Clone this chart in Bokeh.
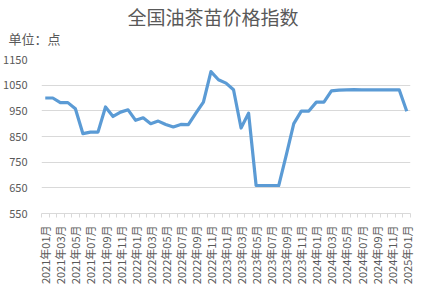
from bokeh.plotting import figure
from bokeh.models import FixedTicker, Range1d, Title
from bokeh.embed import file_html
from bokeh.resources import INLINE

months = [f"{y}年{m:02d}月" for y in range(2021, 2026) for m in range(1, 13)][:49]
values = [1000, 1000, 982, 982, 958, 861, 867, 867, 965, 928,
          945, 954, 913, 923, 900, 910, 897, 887, 897, 896,
          941, 984, 1103, 1071, 1058, 1032, 883, 941, 659, 659,
          659, 659, 777, 900, 949, 949, 984, 984, 1028, 1031,
          1032, 1033, 1032, 1032, 1032, 1032, 1032, 1032, 948]
y_ticks = [550, 650, 750, 850, 950, 1050, 1150]
title_text = "全国油茶苗价格指数"
unit_text = "单位：点"

FONT = "Noto Sans CJK SC"
GREY = "#595959"
GRID = "#D9D9D9"

xs = list(range(len(values)))

p = figure(width=425, height=291, output_backend="svg", toolbar_location=None,
           x_range=Range1d(-0.5, len(values) - 0.5),
           y_range=Range1d(y_ticks[0], y_ticks[-1]),
           min_border_left=41, min_border_right=15, min_border_top=59,
           min_border_bottom=78)
p.outline_line_color = None
p.background_fill_color = "white"
p.border_fill_color = "white"

p.line(xs, values, line_color="#5B9BD5", line_width=3.2, line_join="round")

# x axis
label_idx = xs[::2]
p.xaxis.ticker = FixedTicker(ticks=label_idx,
                             minor_ticks=[i - 0.5 for i in range(len(values) + 1)])
p.xaxis.major_label_overrides = {i: months[i] for i in label_idx}
p.xaxis.major_label_orientation = 3.14159265 / 2
p.xaxis.major_tick_out = 0
p.xaxis.major_tick_in = 0
p.xaxis.minor_tick_out = 4
p.xaxis.minor_tick_in = 0
p.xaxis.minor_tick_line_color = GRID
p.xaxis.axis_line_color = GRID
p.xaxis.major_label_standoff = 8
p.xaxis.major_label_text_font = FONT
p.xaxis.major_label_text_font_size = "11px"
p.xaxis.major_label_text_color = GREY
p.xgrid.visible = False

# y axis
p.yaxis.ticker = FixedTicker(ticks=y_ticks)
p.yaxis.axis_line_color = None
p.yaxis.major_tick_line_color = None
p.yaxis.minor_tick_line_color = None
p.yaxis.major_label_standoff = 8
p.yaxis.major_label_text_font = FONT
p.yaxis.major_label_text_font_size = "11px"
p.yaxis.major_label_text_color = GREY
p.ygrid.ticker = FixedTicker(ticks=y_ticks)
p.ygrid.grid_line_color = GRID

p.title.visible = False
p.add_layout(Title(text=unit_text, align="left", offset=-33, standoff=24,
                   text_font=FONT, text_font_size="13px", text_font_style="normal",
                   text_color=GREY), "above")
p.add_layout(Title(text=title_text, align="left", offset=86, standoff=-31,
                   text_font=FONT, text_font_size="19px", text_font_style="normal",
                   text_color=GREY), "above")

open("out.html", "w").write(file_html(p, INLINE))
